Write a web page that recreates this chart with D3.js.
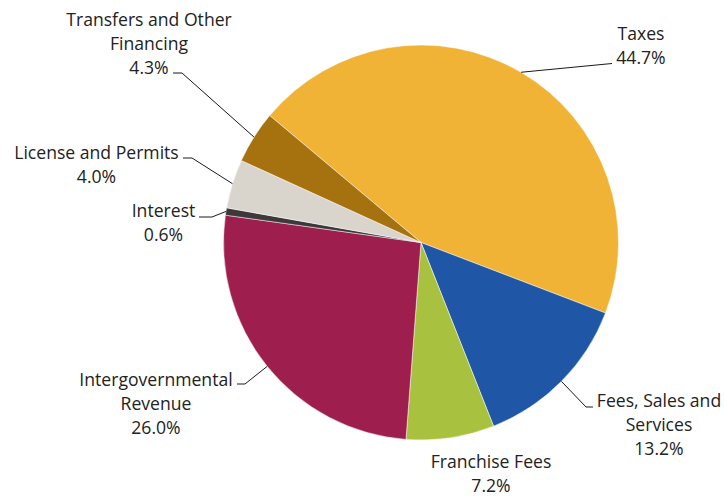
<!DOCTYPE html>
<html>
<head>
<meta charset="utf-8">
<script src="https://cdn.jsdelivr.net/npm/d3@7"></script>
<style>
  html, body { margin: 0; padding: 0; background: #fff; }
  svg text { font-family: "Open Sans", sans-serif; font-size: 17.6px; fill: #222; }
</style>
</head>
<body>
<svg id="chart" width="725" height="497"></svg>
<script>
// Revenue sources, in clockwise order from the top-left
const categories = [
  "Taxes",
  "Fees, Sales and Services",
  "Franchise Fees",
  "Intergovernmental Revenue",
  "Interest",
  "License and Permits",
  "Transfers and Other Financing"
];
const shares = [44.7, 13.2, 7.2, 26.0, 0.6, 4.0, 4.3];
const colors = ["#F0B335", "#1F57A6", "#A8C13E", "#9E1F4E", "#3D393A", "#D9D4CC", "#A5720F"];

// How each label is broken into lines
const labelLines = [
  ["Taxes"],
  ["Fees, Sales and", "Services"],
  ["Franchise Fees"],
  ["Intergovernmental", "Revenue"],
  ["Interest"],
  ["License and Permits"],
  ["Transfers and Other", "Financing"]
];

// Label placement: text centre x, first baseline y, leader elbow and end
const labelLayout = [
  { x: 641, y: 40,  elbow: null,       end: [612, 63.5] },
  { x: 659, y: 407, elbow: [586, 407], end: [593, 407] },
  { x: 491, y: 468, elbow: null,       end: null },
  { x: 156, y: 386, elbow: [245, 384], end: [237, 384] },
  { x: 163.5, y: 217, elbow: [212, 217], end: [199, 217] },
  { x: 96.5, y: 159, elbow: [192, 158], end: [183, 158] },
  { x: 149, y: 26,  elbow: [182, 73],  end: [173, 73] }
];

const cx = 421, cy = 242.5, radius = 197.5;
const lineHeight = 24;
const startAngle = -50 * Math.PI / 180;

const svg = d3.select("#chart");
const g = svg.append("g").attr("transform", `translate(${cx},${cy})`);

const pie = d3.pie()
  .sort(null)
  .value(d => d)
  .startAngle(startAngle)
  .endAngle(startAngle + 2 * Math.PI);

const arcs = pie(shares);
const arc = d3.arc().innerRadius(0).outerRadius(radius);

g.selectAll("path.slice")
  .data(arcs)
  .join("path")
  .attr("class", "slice")
  .attr("d", arc)
  .attr("fill", (d, i) => colors[i])
  .attr("stroke", "#fff")
  .attr("stroke-width", 0.5);

// Leader lines from the slice's outer edge midpoint
const leaders = svg.append("g");
arcs.forEach((d, i) => {
  const L = labelLayout[i];
  if (!L.end) return;
  const mid = (d.startAngle + d.endAngle) / 2;
  const p0 = [cx + radius * Math.sin(mid), cy - radius * Math.cos(mid)];
  const pts = [p0];
  if (L.elbow) pts.push(L.elbow);
  pts.push(L.end);
  leaders.append("path")
    .attr("d", d3.line()(pts))
    .attr("fill", "none")
    .attr("stroke", "#1a1a1a")
    .attr("stroke-width", 1);
});

// Labels: name lines followed by the percentage
const labels = svg.append("g");
categories.forEach((c, i) => {
  const L = labelLayout[i];
  const lines = labelLines[i].concat([d3.format(".1f")(shares[i]) + "%"]);
  const t = labels.append("text").attr("text-anchor", "middle");
  lines.forEach((s, k) => {
    t.append("tspan").attr("x", L.x).attr("y", L.y + k * lineHeight).text(s);
  });
});
</script>
</body>
</html>
